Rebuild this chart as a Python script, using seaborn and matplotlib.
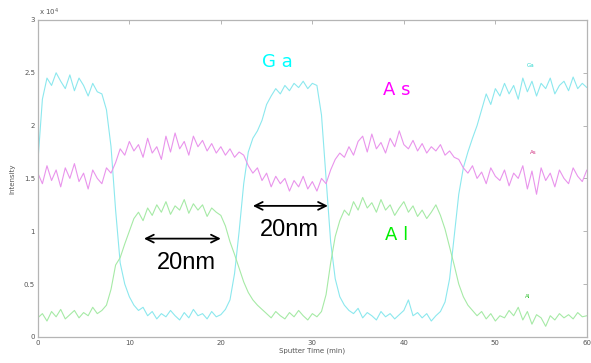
import seaborn as sns
import matplotlib.pyplot as plt
import numpy as np
import pandas as pd

# sputter depth profile, intensity in units of 1e4, one sample every 0.5 min
time = np.arange(0, 60.5, 0.5)

ga = [1.65, 2.25, 2.45, 2.38, 2.50, 2.42, 2.35, 2.48, 2.33, 2.45, 2.38, 2.28, 2.40, 2.32, 2.30, 2.15,
      1.80, 1.20, 0.70, 0.50, 0.38, 0.30, 0.25, 0.28, 0.20, 0.24, 0.17, 0.22, 0.19, 0.25, 0.20, 0.16,
      0.23, 0.18, 0.26, 0.20, 0.22, 0.17, 0.24, 0.19, 0.21, 0.26, 0.35, 0.60, 1.00, 1.45, 1.75, 1.88,
      1.95, 2.05, 2.20, 2.28, 2.35, 2.30, 2.38, 2.33, 2.40, 2.36, 2.42, 2.35, 2.40, 2.38, 2.10, 1.50,
      0.90, 0.55, 0.38, 0.30, 0.25, 0.22, 0.27, 0.18, 0.23, 0.20, 0.16, 0.24, 0.19, 0.22, 0.17, 0.21,
      0.25, 0.35, 0.20, 0.23, 0.18, 0.22, 0.15, 0.20, 0.24, 0.33, 0.55, 0.95, 1.35, 1.60, 1.75, 1.88,
      2.00, 2.15, 2.30, 2.20, 2.35, 2.28, 2.40, 2.30, 2.38, 2.25, 2.45, 2.32, 2.42, 2.28, 2.40, 2.35,
      2.45, 2.30, 2.38, 2.42, 2.33, 2.46, 2.35, 2.40, 2.36]

as_ = [1.55, 1.45, 1.62, 1.48, 1.58, 1.42, 1.60, 1.50, 1.64, 1.47, 1.55, 1.40, 1.58, 1.50, 1.45, 1.60,
       1.55, 1.65, 1.78, 1.72, 1.85, 1.76, 1.82, 1.70, 1.88, 1.74, 1.80, 1.68, 1.90, 1.75, 1.93, 1.78,
       1.85, 1.72, 1.90, 1.80, 1.86, 1.76, 1.83, 1.74, 1.80, 1.72, 1.78, 1.70, 1.75, 1.72,
       1.62, 1.55, 1.60, 1.48, 1.55, 1.42, 1.52, 1.45, 1.50, 1.38, 1.48, 1.42, 1.52, 1.40, 1.47, 1.38,
       1.50, 1.45, 1.58, 1.68,
       1.74, 1.70, 1.80, 1.72, 1.85, 1.90, 1.75, 1.92, 1.78, 1.84, 1.74, 1.88, 1.80, 1.95, 1.82, 1.78,
       1.86, 1.76, 1.83, 1.74, 1.80, 1.76, 1.82, 1.72, 1.76, 1.70, 1.68, 1.60, 1.55,
       1.62, 1.50, 1.56, 1.45, 1.60, 1.52, 1.48, 1.58, 1.43, 1.55, 1.50, 1.62, 1.40, 1.57, 1.35, 1.60,
       1.48, 1.55, 1.42, 1.58, 1.50, 1.45, 1.60, 1.52, 1.47, 1.58]

al = [0.18, 0.22, 0.15, 0.24, 0.19, 0.26, 0.17, 0.21, 0.25, 0.18, 0.23, 0.20, 0.28, 0.22, 0.25, 0.30,
      0.45, 0.68, 0.75, 0.88, 1.00, 1.12, 1.18, 1.10, 1.22, 1.15, 1.25, 1.18, 1.28, 1.16, 1.24, 1.20,
      1.30, 1.17, 1.26, 1.20, 1.25, 1.14, 1.22, 1.18, 1.15, 1.05, 0.90, 0.78, 0.65, 0.52, 0.42, 0.35,
      0.30, 0.26, 0.22,
      0.18, 0.24, 0.20, 0.17, 0.23, 0.19, 0.25, 0.20, 0.16, 0.22, 0.19, 0.24, 0.40, 0.70, 0.95, 1.10,
      1.20,
      1.15, 1.28, 1.20, 1.32, 1.22, 1.27, 1.18, 1.30, 1.20, 1.25, 1.15, 1.22, 1.28, 1.18, 1.24, 1.14,
      1.20, 1.12, 1.18, 1.25, 1.15, 1.02, 0.85, 0.68, 0.50, 0.38, 0.30,
      0.25, 0.20, 0.24, 0.17, 0.22, 0.15, 0.20, 0.18, 0.25, 0.20, 0.28, 0.16, 0.24, 0.12, 0.21, 0.18,
      0.10, 0.20, 0.16, 0.22, 0.18, 0.21, 0.17, 0.23, 0.19, 0.20]

x_ticks = [0, 10, 20, 30, 40, 50, 60]
y_ticks = [0, 0.5, 1, 1.5, 2, 2.5, 3]
y_tick_labels = ["0", "0.5", "1", "1.5", "2", "2.5", "3"]

df = pd.DataFrame({"time": np.concatenate([time, time, time]),
                   "intensity": ga + as_ + al,
                   "element": ["Ga"] * len(ga) + ["As"] * len(as_) + ["Al"] * len(al)})

sns.set_style("white")
palette = {"Ga": "#8CE8EE", "As": "#E994EC", "Al": "#A6EAA6"}

fig = plt.figure(figsize=(5.91, 3.63), dpi=100)
ax = fig.add_axes([0.064, 0.072, 0.929, 0.873])
sns.lineplot(data=df, x="time", y="intensity", hue="element", palette=palette,
             linewidth=0.8, legend=False, ax=ax)

ax.set_xlim(0, 60)
ax.set_ylim(0, 3)
ax.set_xticks(x_ticks)
ax.set_yticks(y_ticks)
ax.set_yticklabels(y_tick_labels)
ax.tick_params(direction="in", length=3, width=0.6, colors="#aaaaaa",
               labelcolor="#555555", labelsize=5, top=True, right=True, pad=2)
for s in ax.spines.values():
    s.set_color("#b5b5b5")
    s.set_linewidth(0.9)
ax.set_xlabel("Sputter Time (min)", fontsize=5, color="#555555", labelpad=1)
ax.set_ylabel("Intensity", fontsize=5, color="#555555", labelpad=6)
ax.text(0.003, 1.005, "x 10$^4$", transform=ax.transAxes, fontsize=5,
        color="#555555", va="bottom")

# element labels
ax.text(26.2, 2.60, "G a", color="#00FFFF", fontsize=13, ha="center", va="center")
ax.text(39.2, 2.34, "A s", color="#FF00FF", fontsize=13, ha="center", va="center")
ax.text(39.2, 0.96, "A l", color="#00EE00", fontsize=13, ha="center", va="center")
# tiny series tags
ax.text(53.9, 2.57, "Ga", color="#30D8D0", fontsize=4, ha="center", va="center")
ax.text(54.1, 1.75, "As", color="#D03080", fontsize=4, ha="center", va="center")
ax.text(53.5, 0.38, "Al", color="#30C030", fontsize=4, ha="center", va="center")

# 20nm markers
arrow = dict(arrowstyle="<->", color="black", lw=1.3, mutation_scale=14)
ax.annotate("", xy=(11.3, 0.93), xytext=(20.3, 0.93), arrowprops=arrow)
ax.annotate("", xy=(23.2, 1.24), xytext=(32.0, 1.24), arrowprops=arrow)
ax.text(16.2, 0.70, "20nm", fontsize=17, color="black", family="Liberation Sans",
        ha="center", va="center")
ax.text(27.5, 1.01, "20nm", fontsize=17, color="black", family="Liberation Sans",
        ha="center", va="center")

plt.savefig("out.png", dpi=100)
